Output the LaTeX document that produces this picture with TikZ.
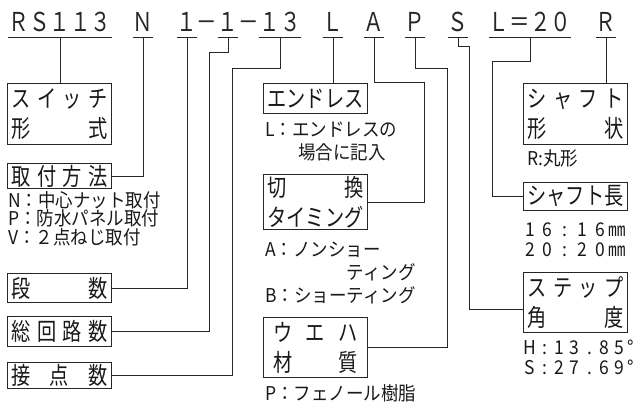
\documentclass[tikz,border=0pt]{standalone}
\usepackage{fontspec}
\newfontfamily\jp[FakeStretch=0.92]{Noto Sans CJK JP}
\newfontfamily\jpn[FakeStretch=0.8]{Noto Sans CJK JP}
\newfontfamily\jpcode[FakeStretch=0.79]{Noto Sans CJK JP}
\newcommand\jus[1]{\makebox[96pt][s]{#1}}
\newcommand\pa[1]{\makebox[17.5pt]{#1}}
\newcommand\pb[1]{\makebox[15pt]{#1}}
\begin{document}
\begin{tikzpicture}[x=1pt,y=-1pt,
  line/.style={draw=black!85, line width=0.9pt},
  jbox/.style={draw=black!85, line width=0.9pt, inner sep=0pt, minimum width=104pt, anchor=north west, align=center, font=\jpn\fontsize{24}{30}\selectfont, text=black!90},
  code/.style={inner xsep=0pt, inner ysep=5pt, text depth=0pt, anchor=south, font=\jpcode\fontsize{26}{26}\selectfont, text=black!85},
  desc/.style={inner sep=0pt, anchor=west, font=\jp\fontsize{19}{19}\selectfont, text=black!90},
]
\fill[white] (0,0) rectangle (639,402);
\useasboundingbox (0,0) rectangle (639,402);

% code line
\node[code] (rs) at (60,37) {ＲＳ１１３};
\node[code] (n) at (143,37) {Ｎ};
\node[code] (c1) at (187,37) {１};
\node[code] (d1) at (207,37) {－};
\node[code] (c2) at (228,37) {１};
\node[code] (d2) at (249,37) {－};
\node[code] (c3) at (280,37) {１３};
\node[code] (cl) at (333,37) {Ｌ};
\node[code] (ca) at (374,37) {Ａ};
\node[code] (cp) at (415,37) {Ｐ};
\node[code] (cs) at (458,37) {Ｓ};
\node[code] (cz) at (530,37) {Ｌ＝２０};
\node[code] (cr) at (606,37) {Ｒ};
\foreach \n in {rs,n,c1,c2,c3,cl,ca,cp,cs,cz,cr}
  \draw[line] (\n.south west) -- (\n.south east);

% left column
\node[jbox, minimum height=61pt] (sw) at (7,83) {\jus{ス\hfil イ\hfil ッ\hfil チ}\\\jus{形\hfil 式}};
\node[jbox, minimum height=25pt] (tm) at (7,163) {\jus{取\hfil 付\hfil 方\hfil 法}};
\node[desc] (tn) at (8,200) {N：中心ナット取付};
\node[desc] (tp) at (8,218.5) {P：防水パネル取付};
\node[desc] (tv) at (8,237) {V：２点ねじ取付};
\node[jbox, minimum height=29pt] (dan) at (7,273) {\jus{段\hfil 数}};
\node[jbox, minimum height=30pt] (sk) at (7,316) {\jus{総\hfil 回\hfil 路\hfil 数}};
\node[jbox, minimum height=26pt] (st) at (7,362) {\jus{接\hfil 点\hfil 数}};

% middle column
\node[jbox, minimum height=30pt] (en) at (263,83) {\jus{エ\hfil ン\hfil ド\hfil レ\hfil ス}};
\node[desc] (enl) at (265,130) {L：エンドレスの};
\node[desc] (en2) at (298,152) {場合に記入};
\node[jbox, minimum height=55pt] (kk) at (263,174) {\jus{切\hfil 換}\\\jus{タ\hfil イ\hfil ミ\hfil ン\hfil グ}};
\node[desc] (ta) at (265,250) {A：ノンショー};
\node[desc] (tb) at (265,295) {B：ショーティング};
\coordinate (tty) at (0,272);
\node[desc, anchor=east] (tt) at (tb.east |- tty) {ティング};
\node[jbox, minimum height=60pt] (wf) at (263,317) {\makebox[84pt][s]{ウ\hfil エ\hfil ハ}\\\makebox[84pt][s]{材\hfil 質}};
\node[desc] (tph) at (265,393) {P：フェノール樹脂};

% right column
\node[jbox, minimum height=61pt] (sh) at (523,83) {\jus{シ\hfil ャ\hfil フ\hfil ト}\\\jus{形\hfil 状}};
\node[desc] (rm) at (527,158) {R:丸形};
\node[jbox, minimum height=28pt] (sl) at (523,182) {\jus{シ\hfil ャ\hfil フ\hfil ト\hfil 長}};
\node[desc] (l16) at (521,230) {\pa{1}\pa{6}\pa{:}\pa{1}\pa{6}㎜};
\node[desc] (l20) at (521,250) {\pa{2}\pa{0}\pa{:}\pa{2}\pa{0}㎜};
\node[jbox, minimum height=60pt] (sp) at (523,272) {\jus{ス\hfil テ\hfil ッ\hfil プ}\\\jus{角\hfil 度}};
\node[desc] (hh) at (522,347) {\pb{H}\pb{:}\pb{1}\pb{3}\pb{.}\pb{8}\pb{5}°};
\node[desc] (ss) at (522,367) {\pb{S}\pb{:}\pb{2}\pb{7}\pb{.}\pb{6}\pb{9}°};

% connectors
\draw[line] (rs.south) -- (rs.south |- sw.north);
\draw[line] (n.south) |- (tm.east);
\draw[line] (c1.south) |- (dan.east);
\draw[line] (c2.south) |- (209,52) |- (sk.east);
\draw[line] (c3.south) |- (232,68) |- (st.east);
\draw[line] (cl.south) -- (cl.south |- en.north);
\draw[line] (ca.south) |- (424,82) |- (kk.east);
\draw[line] (cp.south) |- (447,68) |- (wf.east);
\draw[line] (cs.south) |- (469,46) |- ([yshift=-7pt]sp.west);
\draw[line] (cz.south) |- (492,61) |- (sl.west);
\draw[line] (cr.south) -- (cr.south |- sh.north);
\end{tikzpicture}
\end{document}
